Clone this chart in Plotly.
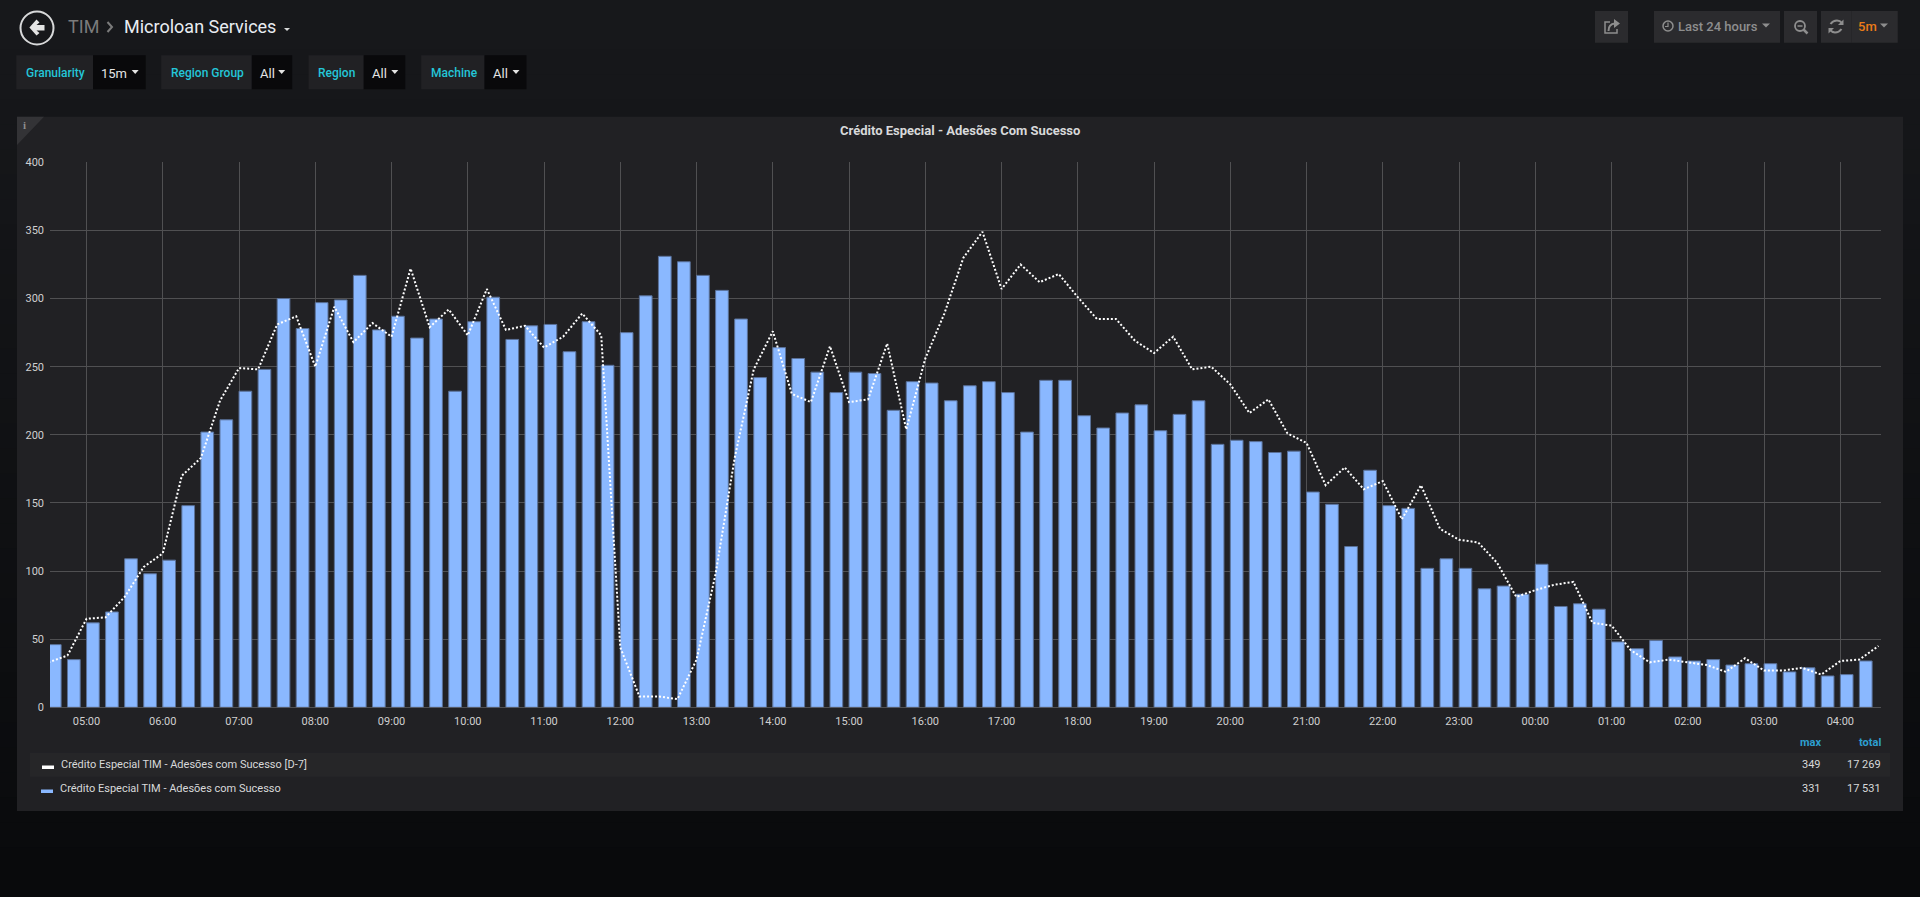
# -*- coding: utf-8 -*-
import pandas as pd
import plotly.graph_objects as go

W, H = 1920, 897

bar_name = 'Crédito Especial TIM - Adesões com Sucesso'
line_name = 'Crédito Especial TIM - Adesões com Sucesso [D-7]'

# current day, one value per 15 min starting 04:30
adesoes = [
    46, 35, 62, 70, 109, 98, 108, 148, 202, 211, 232, 248,
    300, 278, 297, 299, 317, 277, 287, 271, 285, 232, 283, 301,
    270, 280, 281, 261, 283, 251, 275, 302, 331, 327, 317, 306,
    285, 242, 264, 256, 246, 231, 246, 245, 218, 239, 238, 225,
    236, 239, 231, 202, 240, 240, 214, 205, 216, 222, 203, 215,
    225, 193, 196, 195, 187, 188, 158, 149, 118, 174, 148, 146,
    102, 109, 102, 87, 89, 83, 105, 74, 76, 72, 48, 43,
    49, 37, 34, 35, 31, 32, 32, 26, 29, 23, 24, 34,
]

# same window seven days earlier
adesoes_d7 = [
    33, 38, 65, 66, 81, 103, 113, 170, 183, 225, 249, 248,
    281, 287, 250, 294, 268, 282, 272, 322, 279, 292, 273, 307,
    277, 280, 264, 272, 289, 273, 44, 8, 8, 6, 35, 98,
    183, 248, 276, 230, 224, 265, 224, 226, 267, 204, 256, 289,
    330, 349, 307, 325, 312, 318, 301, 285, 285, 269, 260, 272,
    248, 250, 237, 216, 226, 201, 194, 163, 176, 160, 166, 138,
    163, 131, 123, 121, 106, 81, 86, 90, 92, 62, 60, 42,
    33, 35, 33, 31, 26, 36, 27, 27, 29, 24, 34, 35, 45,
]

y_ticks = [0, 50, 100, 150, 200, 250, 300, 350, 400]

legend_rows = [line_name, bar_name]
legend_max = ['349', '331']
legend_total = ['17 269', '17 531']
legend_colors = ['#ffffff', '#8ab8ff']

filters = ['Granularity', 'Region Group', 'Region', 'Machine']
filter_values = ['15m', 'All', 'All', 'All']

times_bar = pd.date_range('2020-03-10 04:30', periods=len(adesoes), freq='15min')
times_line = pd.date_range('2020-03-10 04:30', periods=len(adesoes_d7), freq='15min')


def fx(x):
    return x / W


def fy(y):
    return 1 - y / H


def pt(x, y):
    return f'{fx(x):.5f},{fy(y):.5f}'


shapes = []
notes = []


def rect(x0, y0, x1, y1, color):
    shapes.append(dict(type='rect', xref='paper', yref='paper', layer='below',
                       x0=fx(x0), x1=fx(x1), y0=fy(y0), y1=fy(y1),
                       fillcolor=color, line_width=0))


def poly(points, color):
    path = 'M ' + ' L '.join(pt(x, y) for x, y in points) + ' Z'
    shapes.append(dict(type='path', xref='paper', yref='paper', layer='below',
                       path=path, fillcolor=color, line_width=0))


def stroke(path, color, width=1.5):
    shapes.append(dict(type='path', xref='paper', yref='paper', layer='below',
                       path=path, line=dict(color=color, width=width)))


def circle(cx, cy, r, color, width=1.5):
    shapes.append(dict(type='circle', xref='paper', yref='paper', layer='below',
                       x0=fx(cx - r), x1=fx(cx + r), y0=fy(cy - r), y1=fy(cy + r),
                       line=dict(color=color, width=width)))


def caret(cx, cy, color, w=8, h=4):
    poly([(cx - w / 2, cy - h / 2), (cx + w / 2, cy - h / 2), (cx, cy + h / 2)], color)


def text(x, y, s, color='#d8d9da', size=12, anchor='left', family='Roboto', weight='normal'):
    notes.append(dict(xref='paper', yref='paper', x=fx(x), y=fy(y), text=s,
                      showarrow=False, xanchor=anchor, yanchor='middle', borderpad=0,
                      font=dict(family=family, size=size, color=color, weight=weight)))


# page background, goes darker to the bottom
bands = 36
for i in range(bands):
    t = i / (bands - 1)
    r = round(23 + (9 - 23) * t)
    g = round(24 + (10 - 24) * t)
    b = round(27 + (12 - 27) * t)
    rect(0, i * H / bands, W, (i + 1) * H / bands + 1, f'rgb({r},{g},{b})')

# header
circle(37, 28, 16.5, '#d8d9da', 2)
poly([(29.4, 27.5), (36.5, 19.5), (39.5, 22.5), (36.5, 25), (44.5, 25),
      (44.5, 30.5), (36.5, 30.5), (39.5, 33), (36.5, 35.5)], '#e4e4e4')
text(67, 27, 'TIM', '#7b7b7b', 18)
stroke(f'M {pt(107.5, 22)} L {pt(112, 27)} L {pt(107.5, 32)}', '#7b7b7b', 2)
text(122.5, 27, 'Microloan Services', '#e9edf2', 18)
caret(287, 29.5, '#d8d9da', 6, 3)

# template variables
filter_boxes = [(16.3, 93, 145.7), (161.2, 251.8, 292.2), (308.6, 363.7, 405.3), (421.2, 484.5, 526.5)]
for name, value, (x0, xm, x1) in zip(filters, filter_values, filter_boxes):
    rect(x0, 55.3, xm, 89.3, '#212124')
    rect(xm, 55.3, x1, 89.3, '#09090b')
    text(x0 + 8.5, 72.8, name, '#24c6d8', 12, weight=500)
    text(xm + 7, 73, value, '#e4e4e4', 13)
    caret(x1 - 10.5, 72, '#e4e4e4', 7, 4)

# toolbar
btn = '#2b2b2e'
rect(1595, 11, 1628, 42.7, btn)
rect(1654, 11, 1780, 42.7, btn)
rect(1784, 11, 1817, 42.7, btn)
rect(1821, 11, 1897.7, 42.7, btn)
rect(1851.5, 11, 1852, 42.7, '#222224')
icon = '#8e8e8e'
stroke(f'M {pt(1610, 22)} L {pt(1605, 22)} L {pt(1605, 33)} L {pt(1617, 33)} L {pt(1617, 29)}', icon, 1.5)
poly([(1614, 19), (1620, 23.5), (1614, 28)], icon)
stroke(f'M {pt(1615, 23.5)} Q {pt(1608.5, 24)} {pt(1608.5, 31)}', icon, 2)
circle(1668, 26, 5, icon, 1.5)
stroke(f'M {pt(1668, 22.5)} L {pt(1668, 26.5)} L {pt(1665, 26.5)}', icon, 1.2)
text(1677, 26.5, 'Last 24 hours', icon, 13, weight=500)
caret(1766, 25.5, icon, 8, 4)
circle(1800, 26, 5, icon, 1.8)
stroke(f'M {pt(1803.5, 29.5)} L {pt(1807.5, 33.5)}', icon, 2.5)
stroke(f'M {pt(1797.5, 26)} L {pt(1802.5, 26)}', icon, 1.5)
stroke(f'M {pt(1830.5, 24)} Q {pt(1833, 20.5)} {pt(1837, 20.5)} Q {pt(1840, 20.5)} {pt(1842, 23)}', icon, 2)
poly([(1843.5, 19.5), (1843.5, 25), (1838, 25)], icon)
stroke(f'M {pt(1841.5, 29)} Q {pt(1839, 32.5)} {pt(1835, 32.5)} Q {pt(1832, 32.5)} {pt(1830, 30)}', icon, 2)
poly([(1828.5, 33.5), (1828.5, 28), (1834, 28)], icon)
text(1857, 26.5, '5m', '#eb7b18', 13, weight=500)
caret(1884, 25.5, icon, 8, 4)

# panel
rect(17, 116.7, 1903, 811, '#212124')
poly([(17, 116.7), (44, 116.7), (17, 145)], '#333336')
text(24.5, 125, '<b>i</b>', '#8e8e8e', 11, 'center', 'Liberation Serif')
text(960, 130.2, '<b>Crédito Especial - Adesões Com Sucesso</b>', '#d8d9da', 13, 'center')

# legend table
text(1822, 742.5, '<b>max</b>', '#2d9fd0', 11, 'right')
text(1881.5, 742.5, '<b>total</b>', '#2d9fd0', 11, 'right')
rect(30, 752.7, 1890, 776.7, '#262628')
for i, name in enumerate(legend_rows):
    yc = 764.5 + 24 * i
    x_sw = 42 - i
    rect(x_sw, yc + 1, x_sw + 12, yc + 4.5, legend_colors[i])
    text(x_sw + 18, yc, name, '#d8d9da', 11)
    text(1822, yc, legend_max[i], '#d8d9da', 11, 'right')
    text(1881.5, yc, legend_total[i], '#d8d9da', 11, 'right')

fig = go.Figure()
fig.add_trace(go.Bar(
    x=times_bar, y=adesoes, name=bar_name,
    width=600000, offset=0,
    marker=dict(color='#8ab8ff', line=dict(color='#5a7199', width=1)),
))
fig.add_trace(go.Scatter(
    x=times_line, y=adesoes_d7, name=line_name, mode='lines',
    line=dict(color='#ffffff', width=2, dash='2px,2px'),
))

fig.update_layout(
    width=W, height=H, margin=dict(l=0, r=0, t=0, b=0, autoexpand=False),
    paper_bgcolor='#0b0c0e', plot_bgcolor='rgba(0,0,0,0)',
    showlegend=False, shapes=shapes, annotations=notes,
    font=dict(family='Roboto', size=11, color='#d0d0d0'),
)
fig.update_xaxes(
    domain=[fx(50), fx(1881)], type='date', automargin=False,
    range=['2020-03-10 04:31:15', '2020-03-11 04:32:00'],
    dtick=3600000, tick0='2020-03-10 05:00', tickformat='%H:%M',
    showgrid=True, gridcolor='#505052', gridwidth=1,
    ticks='', ticklabelstandoff=6, showline=False, zeroline=False,
    tickfont=dict(family='Roboto', size=11, color='#d0d0d0'),
)
fig.update_yaxes(
    domain=[fy(707.3), fy(162.3)], range=[0, 400], automargin=False,
    tickvals=y_ticks, ticktext=[str(v) for v in y_ticks],
    showgrid=True, gridcolor='#505052', gridwidth=1,
    zeroline=True, zerolinecolor='#505052', zerolinewidth=1,
    ticks='', ticklabelstandoff=5, showline=False,
    tickfont=dict(family='Roboto', size=11, color='#d0d0d0'),
)

fig.write_html('out.html', config=dict(displayModeBar=False),
               post_script="document.body.style.margin='0';document.body.style.background='#0b0c0e';document.body.style.overflow='hidden';")
